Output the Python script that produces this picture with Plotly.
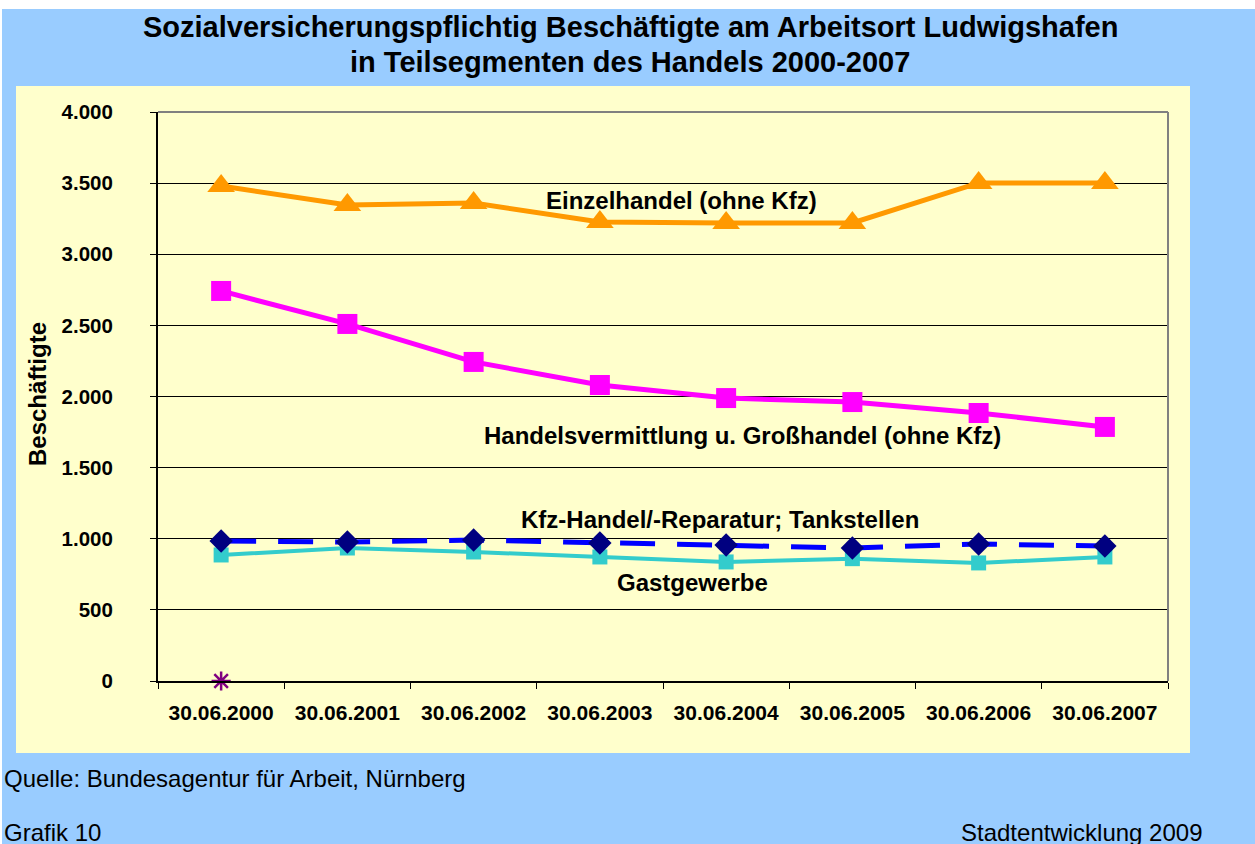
import plotly.graph_objects as go

dates = ["30.06.2000", "30.06.2001", "30.06.2002", "30.06.2003",
         "30.06.2004", "30.06.2005", "30.06.2006", "30.06.2007"]
einzelhandel = [3480, 3346, 3360, 3227, 3220, 3220, 3501, 3501]
grosshandel = [2742, 2510, 2243, 2081, 1989, 1961, 1884, 1786]
kfz = [984, 977, 991, 970, 956, 935, 963, 949]
gastgewerbe = [886, 935, 907, 872, 837, 860, 830, 872]
marker_zero = [0]
y_ticks = [0, 500, 1000, 1500, 2000, 2500, 3000, 3500, 4000]
y_tick_labels = ["0", "500", "1.000", "1.500", "2.000", "2.500", "3.000", "3.500", "4.000"]

FONT = "Arial, Liberation Sans, sans-serif"

# page offset of the figure (white strip at top/left as in the reference)
OX, OY = 2, 9
FIG_W, FIG_H = 1255 - OX, 844 - OY
L, R, T, B = 158, 1168, 112, 681
W, H = R - L, B - T


def px(x):
    return (x - L) / W


def py(y):
    return (B - y) / H


fig = go.Figure()
fig.add_trace(go.Scatter(x=dates, y=einzelhandel, mode="lines+markers",
                         line=dict(color="#FF9900", width=5),
                         marker=dict(symbol="triangle-up", size=24, color="#FF9900")))
fig.add_trace(go.Scatter(x=dates, y=grosshandel, mode="lines+markers",
                         line=dict(color="#FF00FF", width=5),
                         marker=dict(symbol="square", size=20, color="#FF00FF")))
fig.add_trace(go.Scatter(x=dates, y=gastgewerbe, mode="lines+markers",
                         line=dict(color="#33CCCC", width=4),
                         marker=dict(symbol="square", size=15, color="#33CCCC")))
fig.add_trace(go.Scatter(x=dates, y=kfz, mode="lines+markers",
                         line=dict(color="#0000FF", width=5, dash="35px,22px"),
                         marker=dict(symbol="diamond", size=18, color="#000080")))
fig.add_trace(go.Scatter(x=dates[:1], y=marker_zero, mode="markers", cliponaxis=False,
                         marker=dict(symbol="asterisk", size=16,
                                     line=dict(color="#800080", width=2.5))))

shapes = [
    dict(type="rect", xref="paper", yref="paper", x0=px(16), x1=px(1190), y0=py(753), y1=py(86),
         fillcolor="#FFFFCC", line=dict(width=0), layer="below"),
    dict(type="line", xref="paper", yref="paper", x0=0, x1=1, y0=1, y1=1,
         line=dict(color="#808080", width=2)),
    dict(type="line", xref="paper", yref="paper", x0=1, x1=1, y0=0, y1=1,
         line=dict(color="#808080", width=2)),
]

labels = [
    ("Einzelhandel (ohne Kfz)", 681, 200),
    ("Handelsvermittlung u. Großhandel (ohne Kfz)", 742, 435),
    ("Kfz-Handel/-Reparatur; Tankstellen", 720, 520),
    ("Gastgewerbe", 692, 582),
]
annotations = []
for text, x, y in labels:
    annotations.append(dict(text=text, xref="paper", yref="paper", x=px(x), y=py(y),
                            xanchor="center", yanchor="middle", showarrow=False,
                            font=dict(family=FONT, size=24, color="black", weight="bold")))

title_lines = [
    ("Sozialversicherungspflichtig Beschäftigte am Arbeitsort Ludwigshafen", 27),
    ("in Teilsegmenten des Handels 2000-2007", 62),
]
for text, y in title_lines:
    annotations.append(dict(text=text, xref="paper", yref="paper", x=px(630), y=py(y),
                            xanchor="center", yanchor="middle", showarrow=False,
                            font=dict(family=FONT, size=29, color="black", weight="bold")))

annotations += [
    dict(text="Beschäftigte", xref="paper", yref="paper", x=px(37), y=py(394),
         xanchor="center", yanchor="middle", textangle=-90, showarrow=False,
         font=dict(family=FONT, size=24, color="black", weight="bold")),
    dict(text="Quelle: Bundesagentur für Arbeit, Nürnberg", xref="paper", yref="paper",
         x=px(2), y=py(778), xanchor="left", yanchor="middle", showarrow=False,
         font=dict(family=FONT, size=24, color="black")),
    dict(text="Grafik 10", xref="paper", yref="paper",
         x=px(2), y=py(832), xanchor="left", yanchor="middle", showarrow=False,
         font=dict(family=FONT, size=24, color="black")),
    dict(text="Stadtentwicklung 2009", xref="paper", yref="paper",
         x=px(1205), y=py(832), xanchor="right", yanchor="middle", showarrow=False,
         font=dict(family=FONT, size=24, color="black")),
]

fig.update_layout(
    width=FIG_W, height=FIG_H,
    margin=dict(l=L - OX, r=1255 - R, t=T - OY, b=844 - B, pad=0),
    paper_bgcolor="#99CCFF",
    plot_bgcolor="#FFFFCC",
    showlegend=False,
    shapes=shapes,
    annotations=annotations,
    xaxis=dict(type="category", range=[-0.5, 7.5], showgrid=False,
               showline=True, linecolor="black", linewidth=2,
               ticks="outside", tickson="boundaries", ticklen=6, tickcolor="black",
               tickfont=dict(family=FONT, size=21, color="black", weight="bold"),
               ticklabelstandoff=12, fixedrange=True),
    yaxis=dict(range=[0, 4000], tickvals=y_ticks, ticktext=y_tick_labels,
               showgrid=True, gridcolor="black", gridwidth=1,
               showline=True, linecolor="black", linewidth=2, zeroline=False,
               ticks="outside", ticklen=6, tickcolor="black",
               tickfont=dict(family=FONT, size=20.5, color="black", weight="bold"),
               ticklabelstandoff=33, fixedrange=True),
)

fig.write_html("out.html",
               post_script="document.body.style.margin='%dpx 0 0 %dpx';" % (OY, OX))
